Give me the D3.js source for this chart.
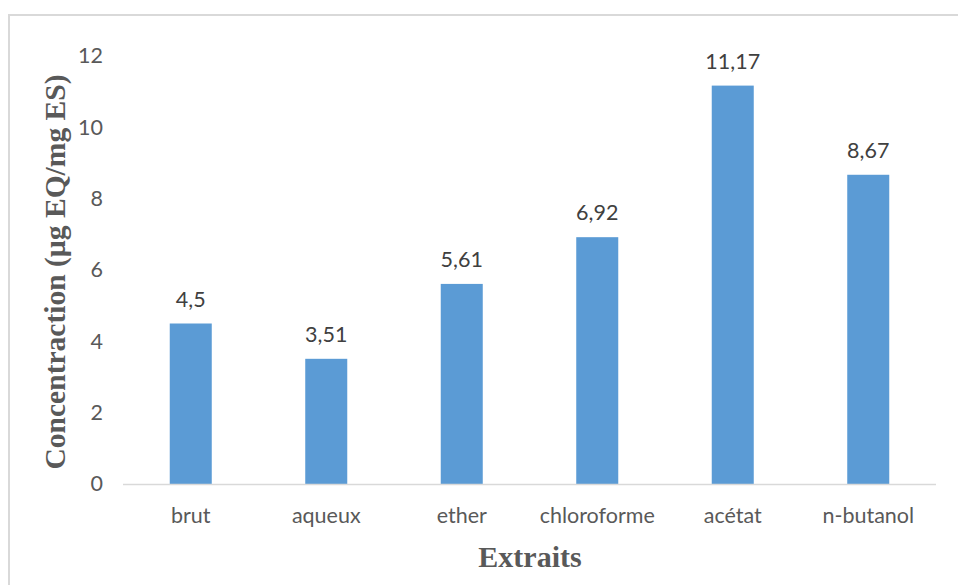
<!DOCTYPE html>
<html>
<head>
<meta charset="utf-8">
<script src="https://cdn.jsdelivr.net/npm/d3@7"></script>
<style>
  html, body { margin: 0; padding: 0; background: #fff; }
  svg { display: block; }
</style>
</head>
<body>
<div id="chart"></div>
<script>
// Extract names and measured concentrations (µg EQ/mg ES)
const categories = ["brut", "aqueux", "ether", "chloroforme", "acétat", "n-butanol"];
const values = [4.5, 3.51, 5.61, 6.92, 11.17, 8.67];
const valueLabels = ["4,5", "3,51", "5,61", "6,92", "11,17", "8,67"];
const yTicks = [0, 2, 4, 6, 8, 10, 12];
const yTitle = "Concentraction (µg EQ/mg ES)";
const xTitle = "Extraits";

const W = 958, H = 585;
const plot = { left: 123, right: 936, top: 56, bottom: 484 };

const svg = d3.select("#chart").append("svg")
  .attr("width", W).attr("height", H);

// chart frame (extends past the right and bottom edges)
svg.append("rect")
  .attr("x", 9).attr("y", 15)
  .attr("width", W + 20).attr("height", H + 20)
  .attr("fill", "#fff")
  .attr("stroke", "#d9d9d9").attr("stroke-width", 2);

const x = d3.scaleBand()
  .domain(categories)
  .range([plot.left, plot.right])
  .paddingInner(0.69).paddingOuter(0.345);

const y = d3.scaleLinear()
  .domain([0, 12])
  .range([plot.bottom, plot.top]);

const labelFont = "Lato, 'Open Sans', sans-serif";
const labelSize = "21.5px";

// y axis tick labels (no axis line)
const yAxis = d3.axisLeft(y).tickValues(yTicks).tickSize(0).tickPadding(0)
  .tickFormat(d3.format("d"));
const gy = svg.append("g")
  .attr("transform", `translate(${plot.left - 20},0)`)
  .call(yAxis);
gy.select(".domain").remove();
gy.selectAll("text")
  .attr("fill", "#595959")
  .style("font-family", labelFont)
  .style("font-size", labelSize);

// bars
svg.append("g").selectAll("rect")
  .data(values)
  .join("rect")
  .attr("x", (d, i) => x(categories[i]))
  .attr("y", d => y(d))
  .attr("width", x.bandwidth())
  .attr("height", d => y(0) - y(d))
  .attr("fill", "#5b9bd5");

// category axis
const xAxis = d3.axisBottom(x).tickSize(0).tickPadding(0);
const gx = svg.append("g")
  .attr("transform", `translate(0,${plot.bottom})`)
  .call(xAxis);
gx.select(".domain")
  .attr("stroke", "#d9d9d9").attr("stroke-width", 1.5)
  .attr("d", `M${plot.left},0.5H${plot.right}`);
gx.selectAll("text")
  .attr("y", 39).attr("dy", 0)
  .attr("fill", "#595959")
  .style("font-family", labelFont)
  .style("font-size", labelSize);

// value labels above bars
svg.append("g").selectAll("text")
  .data(values)
  .join("text")
  .attr("x", (d, i) => x(categories[i]) + x.bandwidth() / 2)
  .attr("y", d => y(d) - 17)
  .attr("text-anchor", "middle")
  .attr("fill", "#404040")
  .style("font-family", labelFont)
  .style("font-size", labelSize)
  .text((d, i) => valueLabels[i]);

// axis titles
const titleFont = "'Liberation Serif', 'Times New Roman', serif";
const yt = svg.append("text")
  .attr("transform", `translate(65,272) rotate(-90)`)
  .attr("text-anchor", "middle")
  .attr("fill", "#595959")
  .style("font-family", titleFont)
  .style("font-weight", "bold")
  .style("font-size", "28px")
  .text(yTitle);
// fit the vertical title to the plot height span
const ytLen = yt.node().getComputedTextLength();
yt.style("font-size", (28 * 395 / ytLen).toFixed(2) + "px");

svg.append("text")
  .attr("x", 530).attr("y", 567)
  .attr("text-anchor", "middle")
  .attr("fill", "#595959")
  .style("font-family", titleFont)
  .style("font-weight", "bold")
  .style("font-size", "30px")
  .text(xTitle);
</script>
</body>
</html>
